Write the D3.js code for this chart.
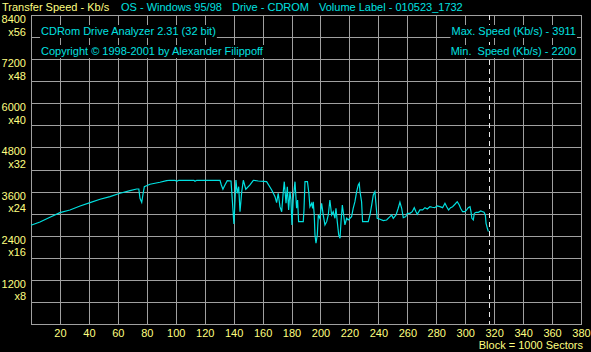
<!DOCTYPE html>
<html>
<head>
<meta charset="utf-8">
<script src="https://cdn.jsdelivr.net/npm/d3@7"></script>
<style>
  body { margin: 0; background: #000; }
  svg { display: block; }
  text { font-family: "Liberation Sans", Arial, sans-serif; font-size: 11px; }
</style>
</head>
<body>
<svg width="591" height="352"></svg>
<script>
// block (x1000 sectors) vs transfer speed in Kb/s
var readings = [[0,2684],[6.2,2773],[13.1,2901],[20,3026],[26.9,3100],[33.9,3208],[40.8,3298],[47.7,3391],[54.6,3461],[61.5,3554],[68.4,3625],[73,3670],[74.5,3670],[75.3,3418],[76.5,3309],[77.5,3554],[78.3,3733],[82.2,3799],[89.1,3853],[93.7,3896],[96,3907],[99.5,3907],[100.7,3880],[102,3907],[112.5,3907],[113.3,3880],[114.5,3907],[130.6,3907],[131.5,3780],[132.6,3663],[134,3780],[135.6,3896],[138.2,3888],[140.2,2719],[141.6,3911],[142.5,3554],[143.5,3733],[144.4,3053],[145.6,3597],[146.7,3907],[148.4,3663],[151.3,3780],[153.6,3907],[157,3888],[162.8,3869],[166.3,3643],[168.6,3461],[169.7,3298],[170.8,3554],[172,3189],[173.2,3053],[174.3,3597],[175,3869],[176.2,3282],[177.1,3733],[178,3100],[178.9,3597],[179.6,3372],[180.3,2692],[181.2,3418],[182.4,3869],[183.5,3146],[184.2,3372],[184.9,2782],[188.1,2782],[188.6,3100],[189.3,3869],[191,3869],[192,3554],[192.7,3189],[193.9,3282],[194.6,3146],[195,3325],[195.7,2964],[196.2,2420],[196.9,2200],[197.8,2420],[198.5,2964],[199.6,2874],[200.8,3282],[201.9,2964],[203.1,2692],[204.3,2782],[205.4,2964],[206.5,3372],[207.7,2964],[208.8,3053],[210,2874],[210.7,3146],[211.6,2782],[212.6,2420],[213.5,2330],[214.2,2782],[215.1,3236],[215.7,3053],[216.9,2692],[218.1,2874],[219.2,2828],[220.4,2874],[221.5,2918],[222.6,3146],[223.8,3325],[225,3597],[226.1,3780],[226.8,3826],[227.3,3597],[228.4,3325],[229.1,2782],[233,2782],[234.2,2964],[235.4,3236],[236.5,3508],[237.6,3597],[238.3,3282],[239.2,2874],[241.1,2847],[243.4,2809],[245.7,2828],[248,2918],[249.2,2964],[250.3,2874],[252.2,2964],[253.7,3146],[254.9,3309],[256.1,3146],[257.2,2890],[258.9,2918],[260,3010],[261.8,3010],[263.4,3053],[264.8,3162],[266,3053],[266.9,2983],[268.7,3100],[270.6,3100],[272.2,3162],[273.8,3127],[275.6,3189],[277.2,3173],[278.9,3162],[280.7,3208],[282.5,3189],[284.4,3162],[286,3282],[287.2,3189],[288.5,3100],[289.9,3162],[291.3,3189],[292.9,3255],[294.5,3325],[295.9,3236],[296.8,3146],[298.2,3053],[299.8,3053],[301,3100],[302.1,3162],[303.3,3189],[304,3053],[304.6,2874],[305.6,2828],[306.3,3010],[307.5,3037],[309.1,3037],[310.7,3073],[312.1,3053],[313,3037],[313.9,2964],[314.4,2738],[315.3,2602],[316,2515]];

var xTicks = [20,40,60,80,100,120,140,160,180,200,220,240,260,280,300,320,340,360,380];
var yTicks = [1200,2400,3600,4800,6000,7200,8400];
var yMultipliers = ["x8","x16","x24","x32","x40","x48","x56"];
var discEnd = 316.5;

var headerLeft = "Transfer Speed - Kb/s";
var headerRight = ["OS - Windows 95/98", "Drive - CDROM", "Volume Label - 010523_1732"];
var infoLeft = ["CDRom Drive Analyzer 2.31 (32 bit)", "Copyright \u00a9 1998-2001 by Alexander Filippoff"];
var infoRight = ["Max. Speed (Kb/s) - 3911", "Min.\u00a0 Speed (Kb/s) - 2200"];
var xTitle = "Block = 1000 Sectors";

var yellow = "#ffff80", cyan = "#00e0e0", grey = "#a0a0a0";

var svg = d3.select("svg");
var plotL = 31, plotR = 581, plotT = 15, plotB = 324;

var x = d3.scaleLinear().domain([0, 380]).range([plotL, plotR]);
var y = d3.scaleLinear().domain([0, 8400]).range([plotB, plotT]);

svg.append("rect").attr("width", 591).attr("height", 352).attr("fill", "#000");

// grid
var gx = svg.append("g").attr("transform", "translate(0," + plotB + ")")
    .call(d3.axisBottom(x).tickValues(d3.range(20, 380, 20)).tickSize(-(plotB - plotT)).tickFormat(""));
var gy = svg.append("g").attr("transform", "translate(" + plotL + ",0)")
    .call(d3.axisLeft(y).tickValues(d3.range(600, 8400, 600)).tickSize(-(plotR - plotL)).tickFormat(""));
gx.select(".domain").remove();
gy.select(".domain").remove();
svg.selectAll(".tick line").attr("stroke", grey).attr("shape-rendering", "crispEdges");

svg.append("rect")
    .attr("x", plotL + 0.5).attr("y", plotT + 0.5)
    .attr("width", plotR - plotL).attr("height", plotB - plotT)
    .attr("fill", "none").attr("stroke", grey).attr("shape-rendering", "crispEdges");

// dashed end-of-disc marker
svg.append("line")
    .attr("x1", Math.round(x(discEnd)) + 0.5).attr("x2", Math.round(x(discEnd)) + 0.5)
    .attr("y1", plotT).attr("y2", plotB)
    .attr("stroke", "#e8e8e8").attr("stroke-dasharray", "5,4")
    .attr("shape-rendering", "crispEdges");

// x labels
var xl = svg.append("g").attr("transform", "translate(0," + plotB + ")")
    .call(d3.axisBottom(x).tickValues(xTicks).tickSize(0).tickFormat(d3.format("d")));
xl.select(".domain").remove();
xl.selectAll("text").attr("y", 13).attr("dy", 0).attr("fill", yellow);

// y labels with multipliers
var yl = svg.append("g").attr("transform", "translate(" + plotL + ",0)")
    .call(d3.axisLeft(y).tickValues(yTicks).tickSize(0).tickPadding(5).tickFormat(d3.format("d")));
yl.select(".domain").remove();
yl.selectAll("text").attr("y", 7.5).attr("dy", 0).attr("fill", yellow);
yl.selectAll(".tick").append("text")
    .attr("x", -5).attr("y", 20).attr("text-anchor", "end").attr("fill", yellow)
    .text(function (d) { return yMultipliers[yTicks.indexOf(d)]; });
svg.selectAll("g").attr("font-family", null).attr("font-size", null);

// speed curve
var line = d3.line().x(function (d) { return x(d[0]); }).y(function (d) { return y(d[1]); });
svg.append("path").datum(readings)
    .attr("d", line).attr("fill", "none").attr("stroke", cyan).attr("stroke-width", 1.2);

// header
svg.append("text").attr("x", 2).attr("y", 11).attr("fill", yellow).text(headerLeft);
var headerX = [121, 232, 319];
headerRight.forEach(function (t, i) {
    svg.append("text").attr("x", headerX[i]).attr("y", 11).attr("fill", cyan).text(t);
});

// info boxes inside the plot
function boxedText(tx, ty, anchor, str) {
    var g = svg.append("g");
    var t = g.append("text").attr("x", tx).attr("y", ty).attr("text-anchor", anchor).attr("fill", cyan).text(str);
    var b = t.node().getBBox();
    g.insert("rect", "text").attr("x", b.x - 1).attr("y", ty - 10).attr("width", b.width + 2).attr("height", 13).attr("fill", "#000");
}
boxedText(41, 35, "start", infoLeft[0]);
boxedText(41, 55, "start", infoLeft[1]);
boxedText(576, 35, "end", infoRight[0]);
boxedText(576, 55, "end", infoRight[1]);

svg.append("text").attr("x", 583).attr("y", 349).attr("text-anchor", "end").attr("fill", yellow).text(xTitle);
</script>
</body>
</html>
